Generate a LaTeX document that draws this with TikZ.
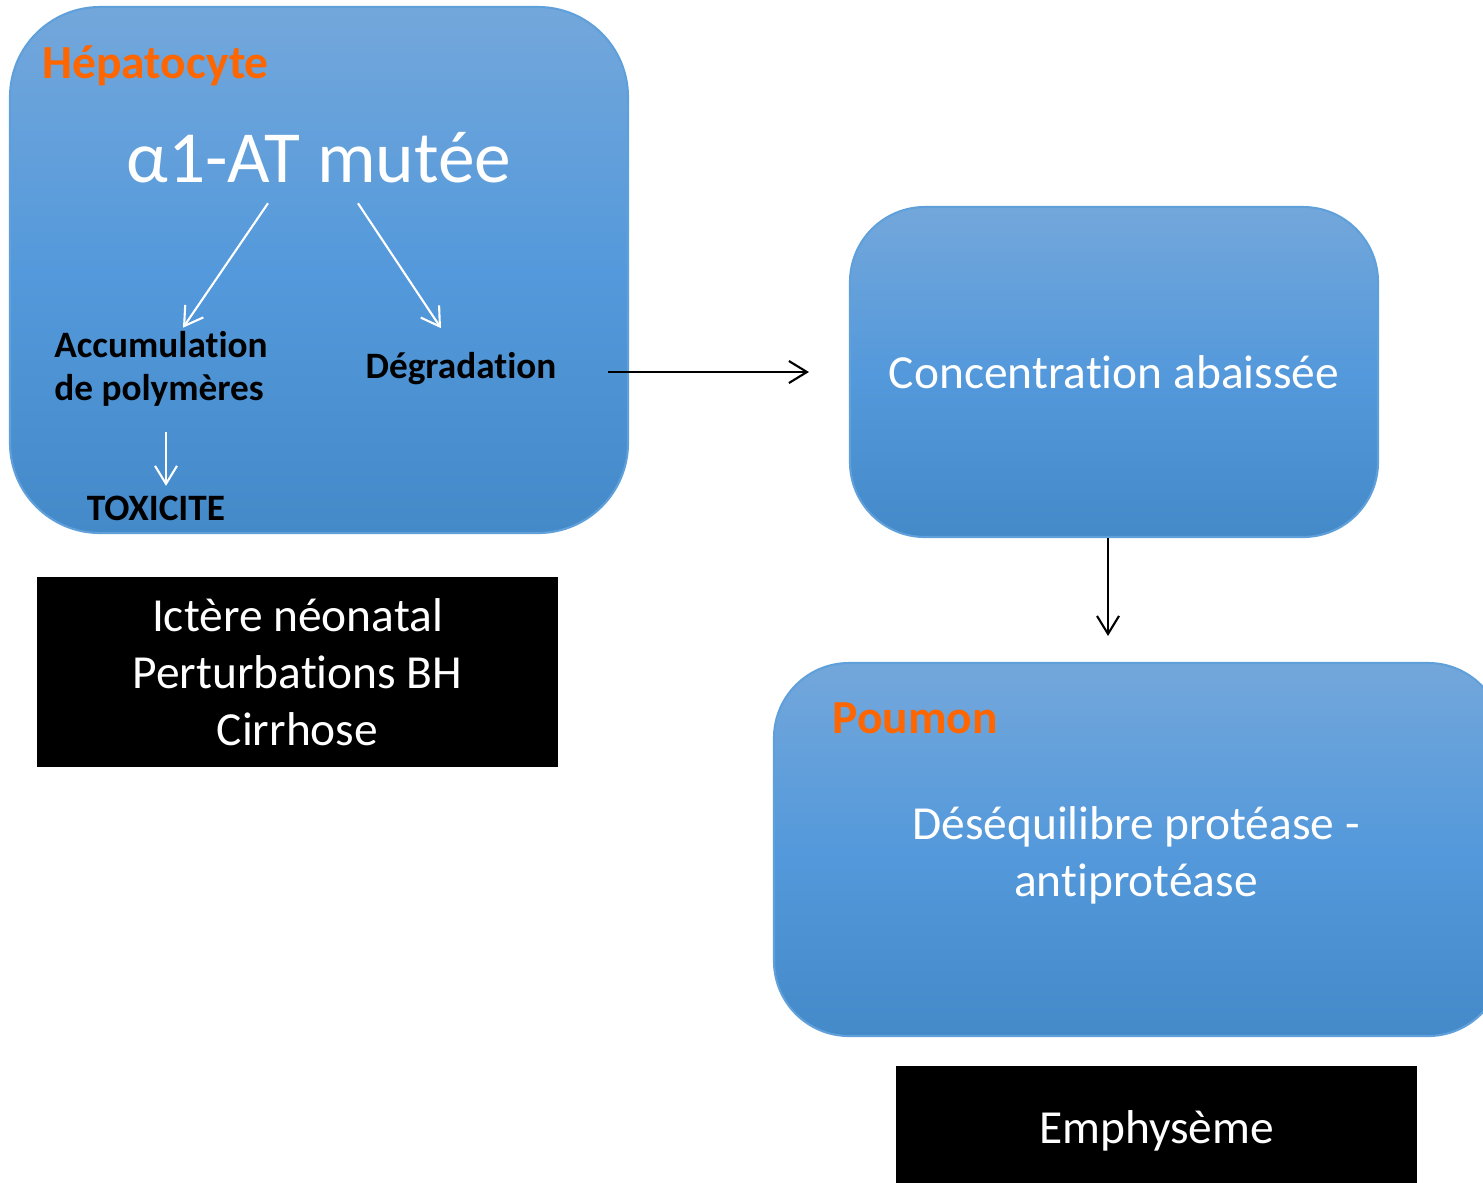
\documentclass[tikz,border=0pt]{standalone}
\usepackage{fontspec}
\setmainfont{Carlito}[Ligatures={NoCommon,NoRare}]
\usetikzlibrary{arrows.meta,positioning,calc}

\definecolor{boxtop}{RGB}{115,167,219}
\definecolor{boxmid}{RGB}{84,153,219}
\definecolor{boxbot}{RGB}{68,137,200}
\definecolor{boxline}{RGB}{96,160,218}
\definecolor{orgtitle}{RGB}{255,102,0}

\newcommand{\fsbig}{\fontsize{20.9pt}{25pt}\selectfont}
\newcommand{\fsmain}{\fontsize{13.5pt}{16.2pt}\selectfont}
\newcommand{\fssmall}{\fontsize{10.6pt}{12.3pt}\selectfont}

\begin{document}
\begin{tikzpicture}[>={Straight Barb[length=1.8mm,width=2.2mm]},font=\fsmain]
\tikzstyle{organ}=[draw=boxline,line width=0.6pt,top color=boxtop,bottom color=boxbot,middle color=boxmid,text=white,align=center]
\tikzstyle{sick}=[fill=black,text=white,align=center,inner sep=0]
\tikzstyle{ttl}=[text=orgtitle,font=\fsmain\bfseries,inner sep=0]
\tikzstyle{lbl}=[font=\fssmall\bfseries,inner sep=0]
\tikzstyle{wht}=[->,white,line width=0.6pt]
\tikzstyle{blk}=[->,black,line width=0.6pt]
\clip (0,0) rectangle (14.83,-11.82);
% liver cell
\node[organ,minimum width=6.18cm,minimum height=5.26cm,rounded corners=0.9cm] (hep) at (3.19,-2.70) {};
\node[ttl,anchor=base west] (hept) at (0.42,-0.78) {Hépatocyte};
\node[text=white,font=\fsbig,inner sep=0,anchor=base] (mut) at (3.19,-1.82) {α1-AT mutée};
\node[lbl,align=left] (acc) at (1.61,-3.69) {Accumulation\\de polymères};
\node[lbl,anchor=base] (deg) at (4.61,-3.78) {Dégradation};
\node[lbl,anchor=base] (tox) at (1.56,-5.20) {TOXICITE};
\node[sick,minimum width=5.21cm,minimum height=1.90cm] (liv) at (2.975,-6.72) {Ictère néonatal\\Perturbations BH\\Cirrhose};
% blood level and lung
\node[organ,minimum width=5.28cm,minimum height=3.30cm,rounded corners=0.75cm] (conc) at (11.14,-3.72) {Concentration abaissée};
\node[organ,minimum width=7.29cm,minimum height=3.73cm,rounded corners=0.75cm] (lung) at (11.385,-8.495) {};
\node[ttl,anchor=base west] (lungt) at (8.32,-7.33) {Poumon};
\node[text=white,align=center,inner sep=0] (deseq) at (11.36,-8.55) {Déséquilibre protéase -\\antiprotéase};
\node[sick,minimum width=5.21cm,minimum height=1.30cm] (emph) at (11.565,-11.31) {Emphysème};
% connectors
\draw[wht] ([xshift=-0.51cm,yshift=-0.20cm]mut.south) -- ([xshift=0.22cm,yshift=0.03cm]acc.north);
\draw[wht] ([xshift=0.39cm,yshift=-0.20cm]mut.south) -- ([xshift=-0.20cm,yshift=0.23cm]deg.north);
\draw[wht] ([xshift=0.05cm,yshift=-0.25cm]acc.south) -- ([xshift=0.10cm,yshift=0.09cm]tox.north);
\draw[blk,shorten <=0.51cm,shorten >=0.40cm] (conc.west -| deg.east) -- (conc.west);
\coordinate (down) at ([xshift=-0.06cm]conc.south);
\draw[blk,shorten >=0.26cm] (down) -- (down |- lung.north);
\end{tikzpicture}
\end{document}
